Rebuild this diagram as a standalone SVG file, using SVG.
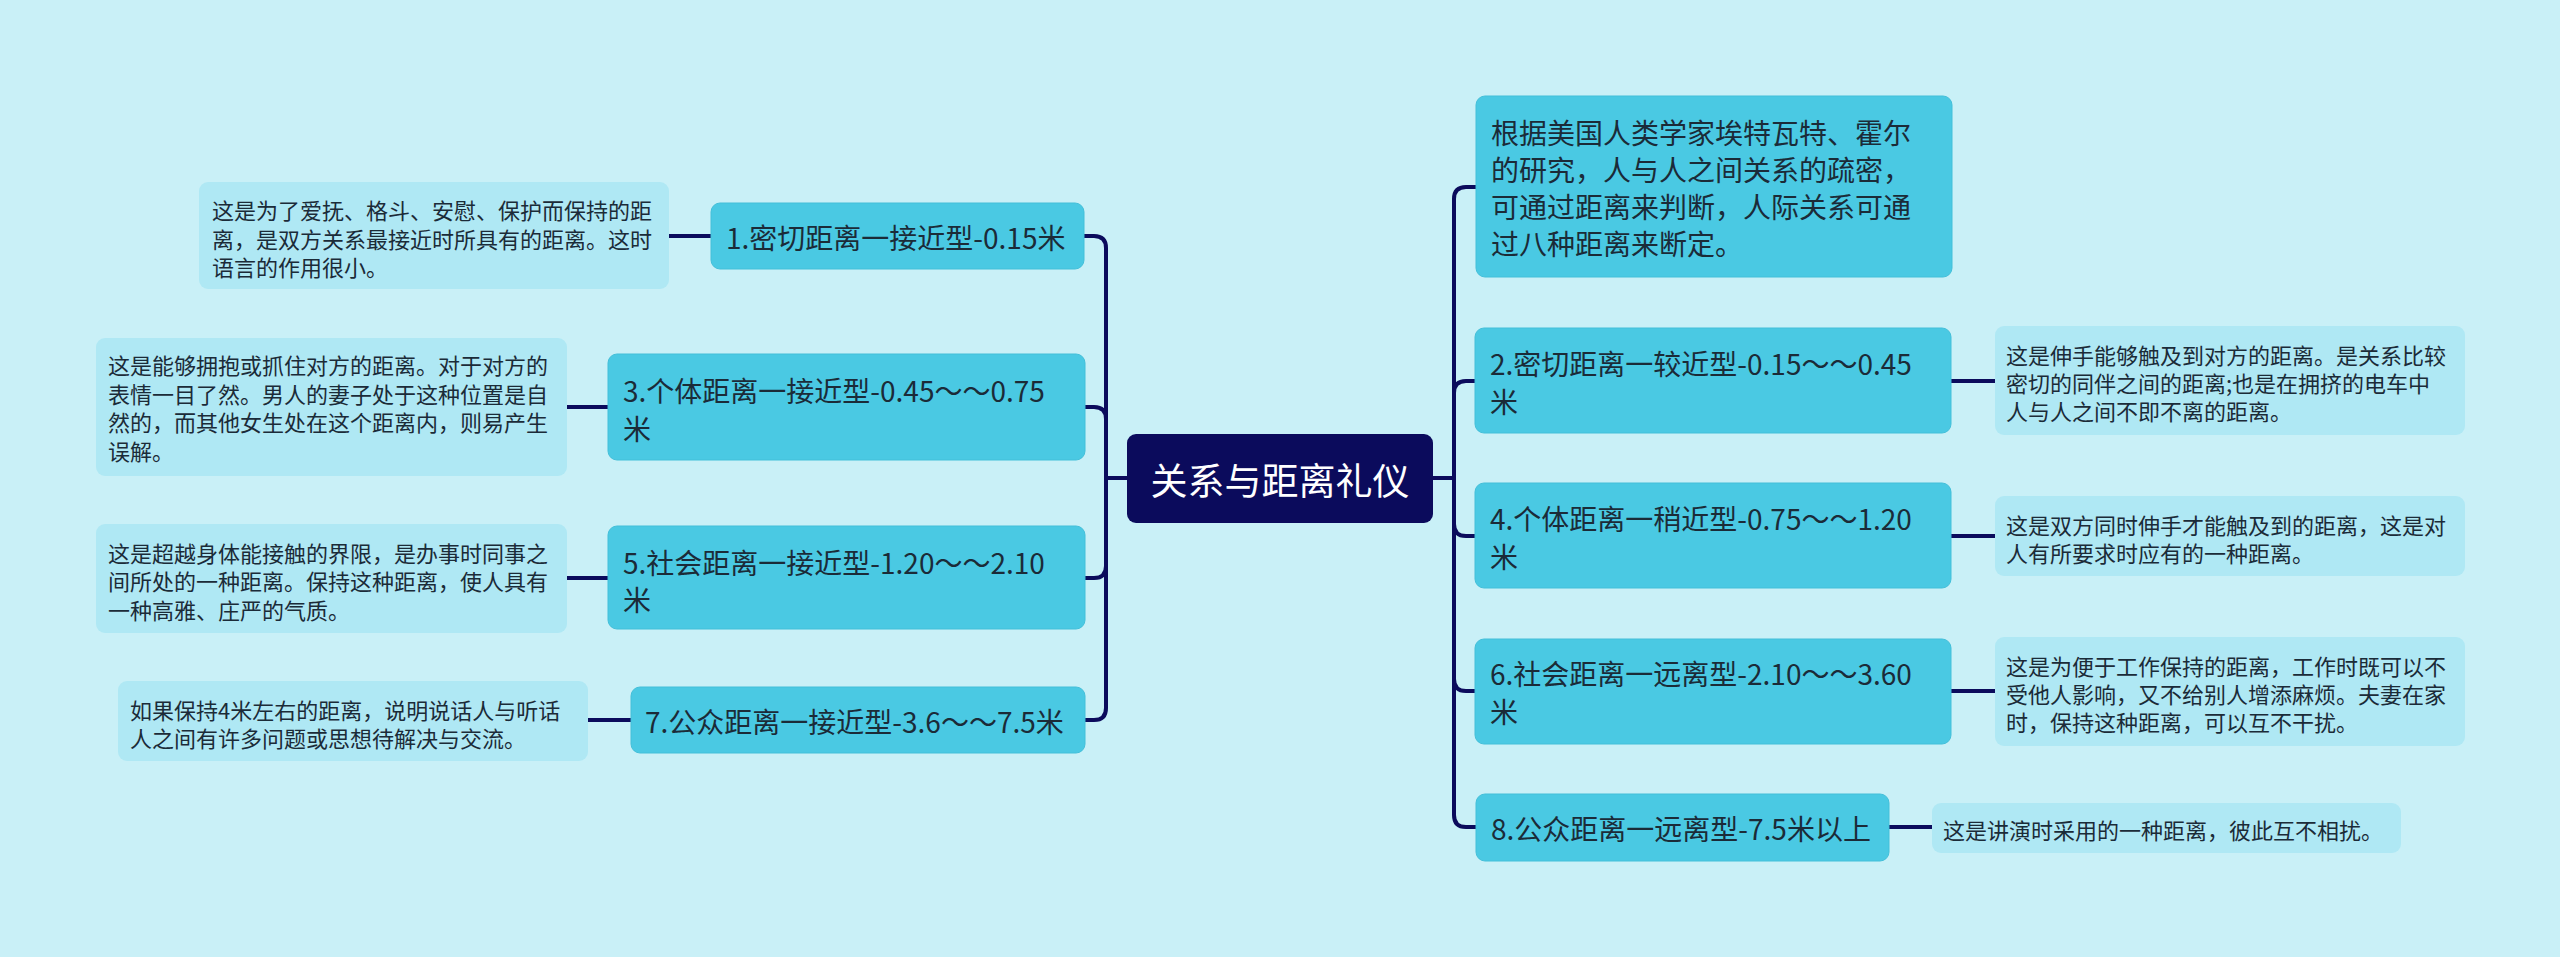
<svg xmlns="http://www.w3.org/2000/svg" width="2560" height="957" viewBox="0 0 2560 957">
<style>
.bg{fill:#c9f0f7}
.main{fill:#4ac9e3;stroke:#43bfd9;stroke-width:1}
.det{fill:#afe8f4}
.root{fill:#0b0b5c}
.mt{font-family:"Noto Sans CJK SC","Noto Sans",sans-serif;font-size:28px;fill:#1b2b38;dominant-baseline:central}
.dt{font-family:"Noto Sans CJK SC","Noto Sans",sans-serif;font-size:22px;fill:#1b2b38;dominant-baseline:central}
.rt{font-family:"Noto Sans CJK SC","Noto Sans",sans-serif;font-size:37px;fill:#ffffff;dominant-baseline:central}
.ln{fill:none;stroke:#0b0b5c;stroke-width:4}
</style>
<rect class="bg" x="0" y="0" width="2560" height="957"/>
<g id="connectors">
<path class="ln" d="M1127 478 H1106 V248 Q1106 236 1094 236 H1084"/>
<path class="ln" d="M1127 478 H1106 V419 Q1106 407 1094 407 H1085"/>
<path class="ln" d="M1127 478 H1106 V566 Q1106 578 1094 578 H1085"/>
<path class="ln" d="M1127 478 H1106 V708 Q1106 720 1094 720 H1085"/>
<path class="ln" d="M1433 478 H1454 V199 Q1454 187 1466 187 H1476"/>
<path class="ln" d="M1433 478 H1454 V393 Q1454 381 1466 381 H1476"/>
<path class="ln" d="M1433 478 H1454 V524 Q1454 536 1466 536 H1476"/>
<path class="ln" d="M1433 478 H1454 V679 Q1454 691 1466 691 H1476"/>
<path class="ln" d="M1433 478 H1454 V815 Q1454 827 1466 827 H1476"/>
<path class="ln" d="M711 236 H669"/>
<path class="ln" d="M608 407 H567"/>
<path class="ln" d="M608 578 H567"/>
<path class="ln" d="M631 720 H588"/>
<path class="ln" d="M1951 381 H1995"/>
<path class="ln" d="M1951 536 H1995"/>
<path class="ln" d="M1951 691 H1995"/>
<path class="ln" d="M1889 827 H1932"/>
</g>
<g id="root">
<rect class="root" x="1127" y="434" width="306" height="89" rx="9"/>
<text class="rt" x="1280" y="479" text-anchor="middle">关系与距离礼仪</text>
</g>
<g id="n1">
<rect class="main" x="711" y="203" width="373" height="66" rx="9"/>
<text class="mt" x="726" y="237">1.密切距离一接近型-0.15米</text>
</g>
<g id="d1">
<rect class="det" x="199" y="182" width="470" height="107" rx="9"/>
<text class="dt" x="212" y="209">这是为了爱抚、格斗、安慰、保护而保持的距</text>
<text class="dt" x="212" y="238">离，是双方关系最接近时所具有的距离。这时</text>
<text class="dt" x="212" y="266">语言的作用很小。</text>
</g>
<g id="n3">
<rect class="main" x="608" y="354" width="477" height="106" rx="9"/>
<text class="mt" x="623" y="390">3.个体距离一接近型-0.45～～0.75</text>
<text class="mt" x="623" y="428">米</text>
</g>
<g id="d3">
<rect class="det" x="96" y="338" width="471" height="138" rx="9"/>
<text class="dt" x="108" y="364">这是能够拥抱或抓住对方的距离。对于对方的</text>
<text class="dt" x="108" y="393">表情一目了然。男人的妻子处于这种位置是自</text>
<text class="dt" x="108" y="421">然的，而其他女生处在这个距离内，则易产生</text>
<text class="dt" x="108" y="450">误解。</text>
</g>
<g id="n5">
<rect class="main" x="608" y="526" width="477" height="103" rx="9"/>
<text class="mt" x="623" y="562">5.社会距离一接近型-1.20～～2.10</text>
<text class="mt" x="623" y="599">米</text>
</g>
<g id="d5">
<rect class="det" x="96" y="524" width="471" height="109" rx="9"/>
<text class="dt" x="108" y="552">这是超越身体能接触的界限，是办事时同事之</text>
<text class="dt" x="108" y="580">间所处的一种距离。保持这种距离，使人具有</text>
<text class="dt" x="108" y="609">一种高雅、庄严的气质。</text>
</g>
<g id="n7">
<rect class="main" x="631" y="687" width="454" height="66" rx="9"/>
<text class="mt" x="645" y="721">7.公众距离一接近型-3.6～～7.5米</text>
</g>
<g id="d7">
<rect class="det" x="118" y="681" width="470" height="80" rx="9"/>
<text class="dt" x="130" y="709">如果保持4米左右的距离，说明说话人与听话</text>
<text class="dt" x="130" y="737">人之间有许多问题或思想待解决与交流。</text>
</g>
<g id="intro">
<rect class="main" x="1476" y="96" width="476" height="181" rx="9"/>
<text class="mt" x="1491" y="132">根据美国人类学家埃特瓦特、霍尔</text>
<text class="mt" x="1491" y="169">的研究，人与人之间关系的疏密，</text>
<text class="mt" x="1491" y="206">可通过距离来判断，人际关系可通</text>
<text class="mt" x="1491" y="243">过八种距离来断定。</text>
</g>
<g id="n2">
<rect class="main" x="1475" y="328" width="476" height="105" rx="9"/>
<text class="mt" x="1490" y="363">2.密切距离一较近型-0.15～～0.45</text>
<text class="mt" x="1490" y="401">米</text>
</g>
<g id="d2">
<rect class="det" x="1995" y="326" width="470" height="109" rx="9"/>
<text class="dt" x="2006" y="354">这是伸手能够触及到对方的距离。是关系比较</text>
<text class="dt" x="2006" y="382">密切的同伴之间的距离;也是在拥挤的电车中</text>
<text class="dt" x="2006" y="410">人与人之间不即不离的距离。</text>
</g>
<g id="n4">
<rect class="main" x="1475" y="483" width="476" height="105" rx="9"/>
<text class="mt" x="1490" y="518">4.个体距离一稍近型-0.75～～1.20</text>
<text class="mt" x="1490" y="556">米</text>
</g>
<g id="d4">
<rect class="det" x="1995" y="496" width="470" height="80" rx="9"/>
<text class="dt" x="2006" y="524">这是双方同时伸手才能触及到的距离，这是对</text>
<text class="dt" x="2006" y="552">人有所要求时应有的一种距离。</text>
</g>
<g id="n6">
<rect class="main" x="1475" y="639" width="476" height="105" rx="9"/>
<text class="mt" x="1490" y="673">6.社会距离一远离型-2.10～～3.60</text>
<text class="mt" x="1490" y="711">米</text>
</g>
<g id="d6">
<rect class="det" x="1995" y="637" width="470" height="109" rx="9"/>
<text class="dt" x="2006" y="665">这是为便于工作保持的距离，工作时既可以不</text>
<text class="dt" x="2006" y="693">受他人影响，又不给别人增添麻烦。夫妻在家</text>
<text class="dt" x="2006" y="721">时，保持这种距离，可以互不干扰。</text>
</g>
<g id="n8">
<rect class="main" x="1476" y="794" width="413" height="67" rx="9"/>
<text class="mt" x="1491" y="828">8.公众距离一远离型-7.5米以上</text>
</g>
<g id="d8">
<rect class="det" x="1932" y="803" width="469" height="50" rx="9"/>
<text class="dt" x="1943" y="829">这是讲演时采用的一种距离，彼此互不相扰。</text>
</g>
</svg>
